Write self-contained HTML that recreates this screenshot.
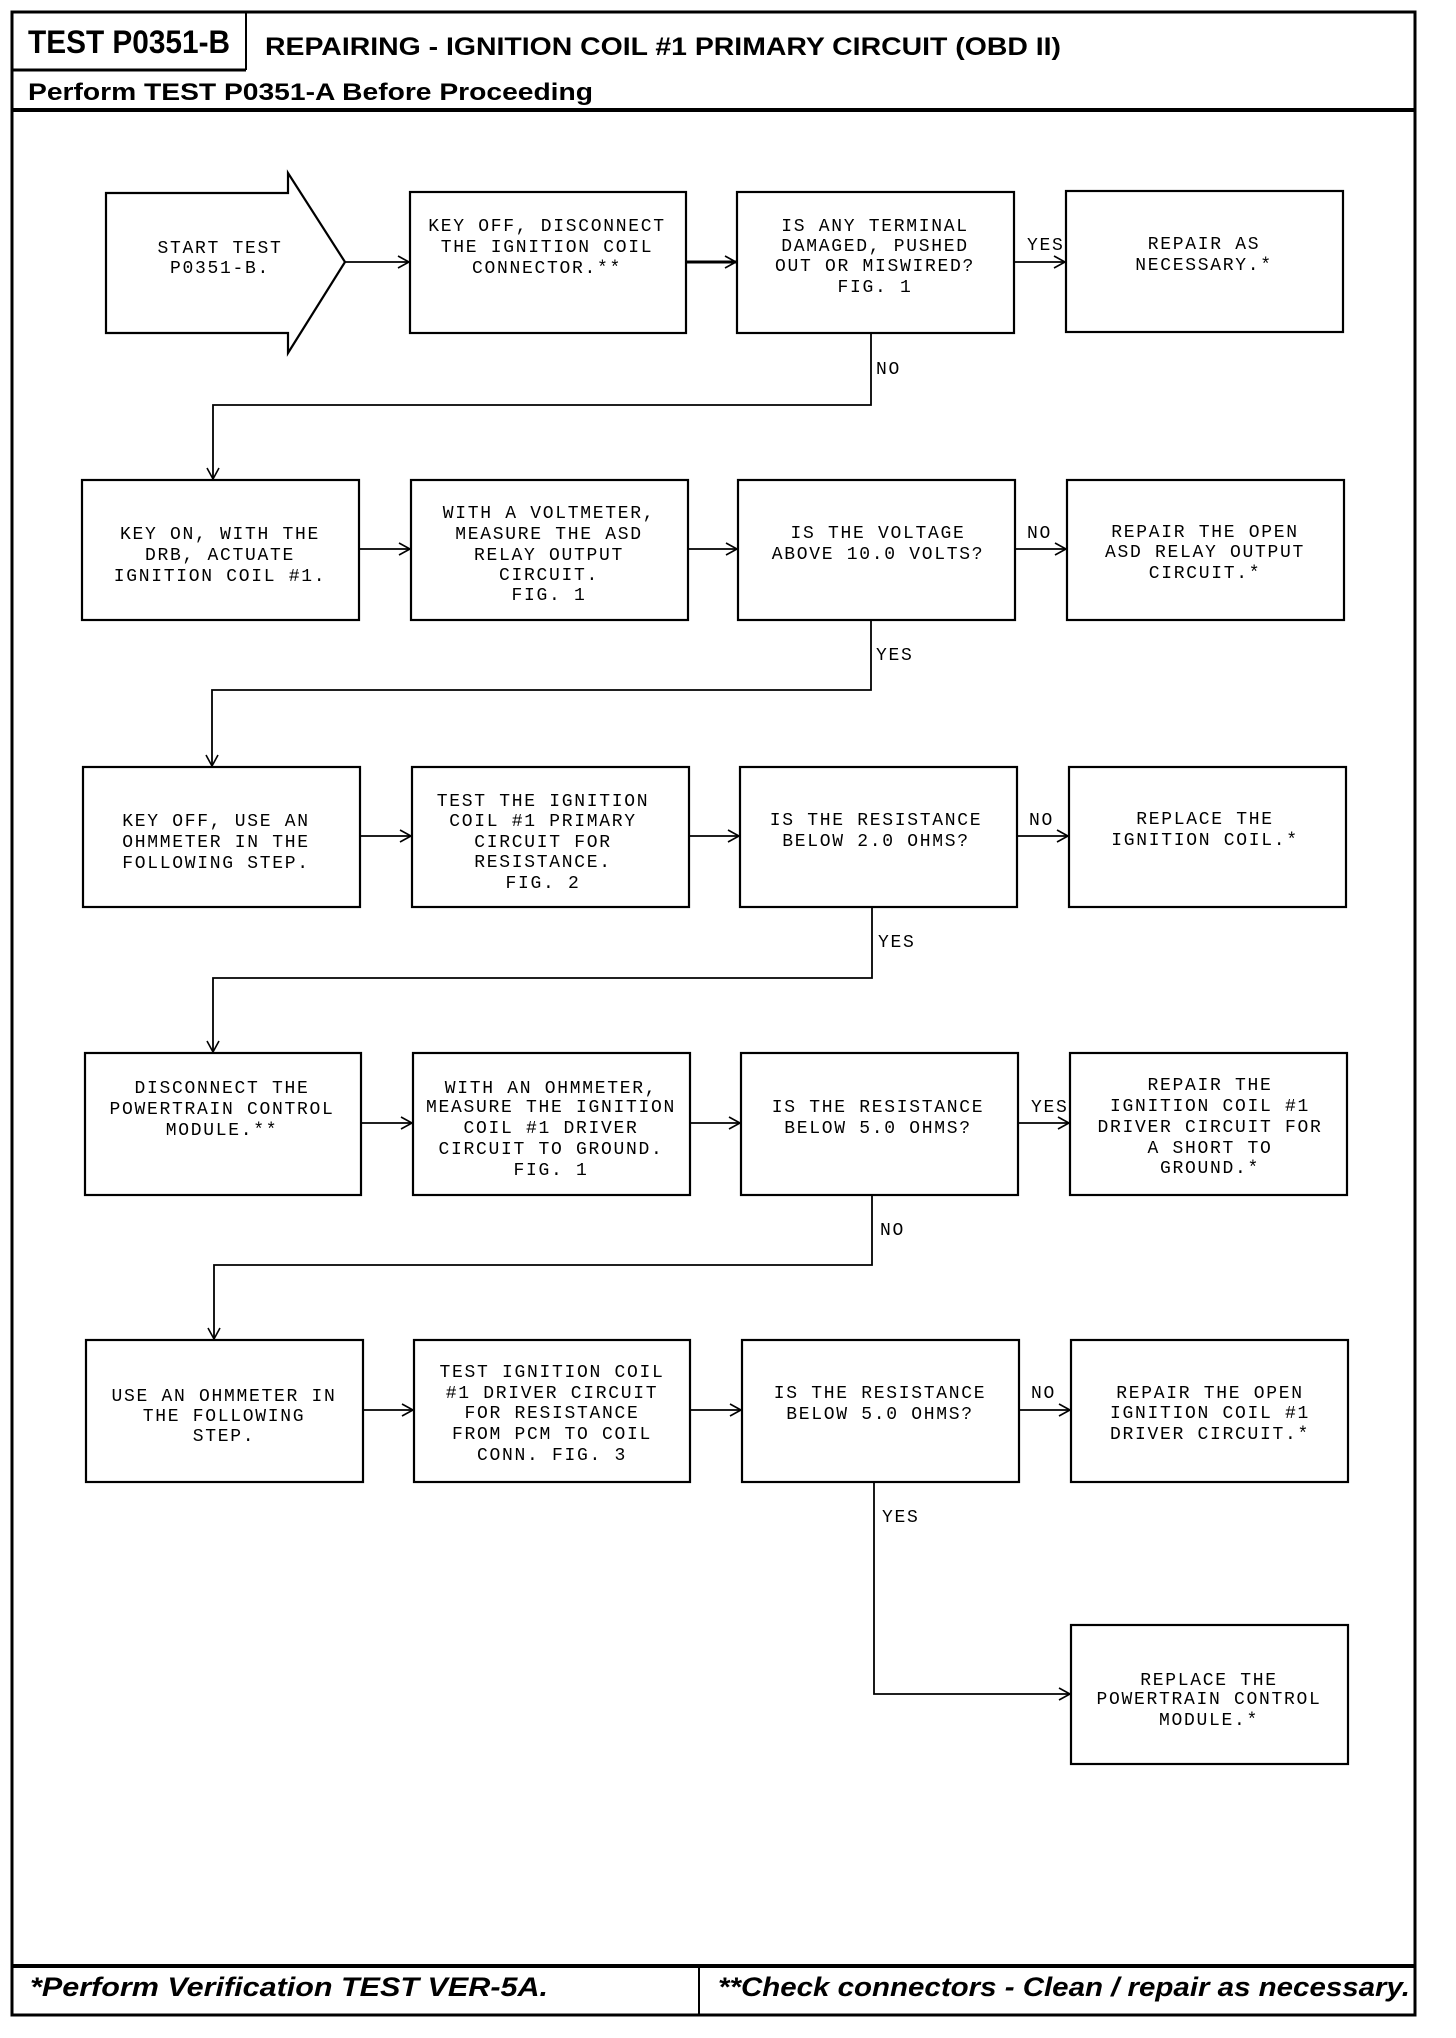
<!DOCTYPE html>
<html><head><meta charset="utf-8"><style>
html,body{margin:0;padding:0;background:#fff;}
svg{display:block;}
.m{font-family:"Liberation Mono","DejaVu Sans Mono",monospace;font-size:18px;letter-spacing:1.7px;fill:#000;text-anchor:middle;}
.l{text-anchor:start;}
.h{font-family:"Liberation Sans",sans-serif;font-weight:bold;fill:#000;}
</style></head><body>
<svg width="1456" height="2038" viewBox="0 0 1456 2038" xmlns="http://www.w3.org/2000/svg">
<defs><marker id="a" markerWidth="14" markerHeight="14" refX="12" refY="7" orient="auto" markerUnits="userSpaceOnUse"><polyline points="1,1 12,7 1,13" fill="none" stroke="#000" stroke-width="1.6"/></marker></defs>
<g fill="none" stroke="#000">
<rect x="12" y="12" width="1403" height="2003" stroke-width="3"/>
<line x1="12" y1="70" x2="246" y2="70" stroke-width="3"/>
<line x1="246" y1="12" x2="246" y2="70" stroke-width="2"/>
<line x1="12" y1="110" x2="1415" y2="110" stroke-width="4"/>
<line x1="12" y1="1966" x2="1415" y2="1966" stroke-width="4"/>
<line x1="699" y1="1966" x2="699" y2="2015" stroke-width="2"/>
<g stroke-width="2.2">
<polygon points="106,193 288,193 288,173 345,262 288,353 288,333 106,333"/>
<rect x="410" y="192" width="276" height="141"/>
<rect x="737" y="192" width="277" height="141"/>
<rect x="1066" y="191" width="277" height="141"/>
<rect x="82" y="480" width="277" height="140"/>
<rect x="411" y="480" width="277" height="140"/>
<rect x="738" y="480" width="277" height="140"/>
<rect x="1067" y="480" width="277" height="140"/>
<rect x="83" y="767" width="277" height="140"/>
<rect x="412" y="767" width="277" height="140"/>
<rect x="740" y="767" width="277" height="140"/>
<rect x="1069" y="767" width="277" height="140"/>
<rect x="85" y="1053" width="276" height="142"/>
<rect x="413" y="1053" width="277" height="142"/>
<rect x="741" y="1053" width="277" height="142"/>
<rect x="1070" y="1053" width="277" height="142"/>
<rect x="86" y="1340" width="277" height="142"/>
<rect x="414" y="1340" width="276" height="142"/>
<rect x="742" y="1340" width="277" height="142"/>
<rect x="1071" y="1340" width="277" height="142"/>
<rect x="1071" y="1625" width="277" height="139"/>
</g>
<g stroke-width="1.8" marker-end="url(#a)">
<line x1="345" y1="262" x2="409" y2="262"/>
<line x1="686" y1="262" x2="736" y2="262" stroke-width="3"/>
<line x1="1014" y1="262" x2="1065" y2="262"/>
<polyline points="871,333 871,405 213,405 213,479"/>
<line x1="359" y1="549" x2="410" y2="549"/>
<line x1="688" y1="549" x2="737" y2="549"/>
<line x1="1015" y1="549" x2="1066" y2="549"/>
<polyline points="871,620 871,690 212,690 212,766"/>
<line x1="360" y1="836" x2="411" y2="836"/>
<line x1="689" y1="836" x2="739" y2="836"/>
<line x1="1017" y1="836" x2="1068" y2="836"/>
<polyline points="872,907 872,978 213,978 213,1052"/>
<line x1="361" y1="1123" x2="412" y2="1123"/>
<line x1="690" y1="1123" x2="740" y2="1123"/>
<line x1="1018" y1="1123" x2="1069" y2="1123"/>
<polyline points="872,1195 872,1265 214,1265 214,1339"/>
<line x1="363" y1="1410" x2="413" y2="1410"/>
<line x1="690" y1="1410" x2="741" y2="1410"/>
<line x1="1019" y1="1410" x2="1070" y2="1410"/>
<polyline points="874,1482 874,1694 1070,1694"/>
</g>
</g>
<text class="h" x="28" y="53" font-size="32" textLength="202" lengthAdjust="spacingAndGlyphs">TEST P0351-B</text>
<text class="h" x="265" y="55" font-size="25" textLength="796" lengthAdjust="spacingAndGlyphs">REPAIRING - IGNITION COIL #1 PRIMARY CIRCUIT (OBD II)</text>
<text class="h" x="28" y="100" font-size="24" textLength="565" lengthAdjust="spacingAndGlyphs">Perform TEST P0351-A Before Proceeding</text>
<text class="h" x="30" y="1996" font-size="27" font-style="italic" textLength="518" lengthAdjust="spacingAndGlyphs">*Perform Verification TEST VER-5A.</text>
<text class="h" x="718" y="1996" font-size="27" font-style="italic" textLength="692" lengthAdjust="spacingAndGlyphs">**Check connectors - Clean / repair as necessary.</text>
<g class="m" transform="translate(0,5)">
<text x="220" y="248">START TEST</text><text x="220" y="268">P0351-B.</text>
<text x="547" y="226">KEY OFF, DISCONNECT</text><text x="547" y="247">THE IGNITION COIL</text><text x="547" y="268">CONNECTOR.**</text>
<text x="875" y="226">IS ANY TERMINAL</text><text x="875" y="246">DAMAGED, PUSHED</text><text x="875" y="266">OUT OR MISWIRED?</text><text x="875" y="287">FIG. 1</text>
<text x="1204" y="244">REPAIR AS</text><text x="1204" y="265">NECESSARY.*</text>
<text class="m l" x="1027" y="245">YES</text>
<text class="m l" x="876" y="369">NO</text>
<text x="220" y="534">KEY ON, WITH THE</text><text x="220" y="555">DRB, ACTUATE</text><text x="220" y="576">IGNITION COIL #1.</text>
<text x="549" y="513">WITH A VOLTMETER,</text><text x="549" y="534">MEASURE THE ASD</text><text x="549" y="555">RELAY OUTPUT</text><text x="549" y="575">CIRCUIT.</text><text x="549" y="595">FIG. 1</text>
<text x="878" y="533">IS THE VOLTAGE</text><text x="878" y="554">ABOVE 10.0 VOLTS?</text>
<text class="m l" x="1027" y="533">NO</text>
<text x="1205" y="532">REPAIR THE OPEN</text><text x="1205" y="552">ASD RELAY OUTPUT</text><text x="1205" y="573">CIRCUIT.*</text>
<text class="m l" x="876" y="655">YES</text>
<text x="216" y="821">KEY OFF, USE AN</text><text x="216" y="842">OHMMETER IN THE</text><text x="216" y="863">FOLLOWING STEP.</text>
<text x="543" y="801">TEST THE IGNITION</text><text x="543" y="821">COIL #1 PRIMARY</text><text x="543" y="842">CIRCUIT FOR</text><text x="543" y="862">RESISTANCE.</text><text x="543" y="883">FIG. 2</text>
<text x="876" y="820">IS THE RESISTANCE</text><text x="876" y="841">BELOW 2.0 OHMS?</text>
<text class="m l" x="1029" y="820">NO</text>
<text x="1205" y="819">REPLACE THE</text><text x="1205" y="840">IGNITION COIL.*</text>
<text class="m l" x="878" y="942">YES</text>
<text x="222" y="1088">DISCONNECT THE</text><text x="222" y="1109">POWERTRAIN CONTROL</text><text x="222" y="1130">MODULE.**</text>
<text x="551" y="1088">WITH AN OHMMETER,</text><text x="551" y="1107">MEASURE THE IGNITION</text><text x="551" y="1128">COIL #1 DRIVER</text><text x="551" y="1149">CIRCUIT TO GROUND.</text><text x="551" y="1170">FIG. 1</text>
<text x="878" y="1107">IS THE RESISTANCE</text><text x="878" y="1128">BELOW 5.0 OHMS?</text>
<text class="m l" x="1031" y="1107">YES</text>
<text x="1210" y="1085">REPAIR THE</text><text x="1210" y="1106">IGNITION COIL #1</text><text x="1210" y="1127">DRIVER CIRCUIT FOR</text><text x="1210" y="1148">A SHORT TO</text><text x="1210" y="1168">GROUND.*</text>
<text class="m l" x="880" y="1230">NO</text>
<text x="224" y="1396">USE AN OHMMETER IN</text><text x="224" y="1416">THE FOLLOWING</text><text x="224" y="1436">STEP.</text>
<text x="552" y="1372">TEST IGNITION COIL</text><text x="552" y="1393">#1 DRIVER CIRCUIT</text><text x="552" y="1413">FOR RESISTANCE</text><text x="552" y="1434">FROM PCM TO COIL</text><text x="552" y="1455">CONN. FIG. 3</text>
<text x="880" y="1393">IS THE RESISTANCE</text><text x="880" y="1414">BELOW 5.0 OHMS?</text>
<text class="m l" x="1031" y="1393">NO</text>
<text x="1210" y="1393">REPAIR THE OPEN</text><text x="1210" y="1413">IGNITION COIL #1</text><text x="1210" y="1434">DRIVER CIRCUIT.*</text>
<text class="m l" x="882" y="1517">YES</text>
<text x="1209" y="1680">REPLACE THE</text><text x="1209" y="1699">POWERTRAIN CONTROL</text><text x="1209" y="1720">MODULE.*</text>
</g>
</svg>
</body></html>
